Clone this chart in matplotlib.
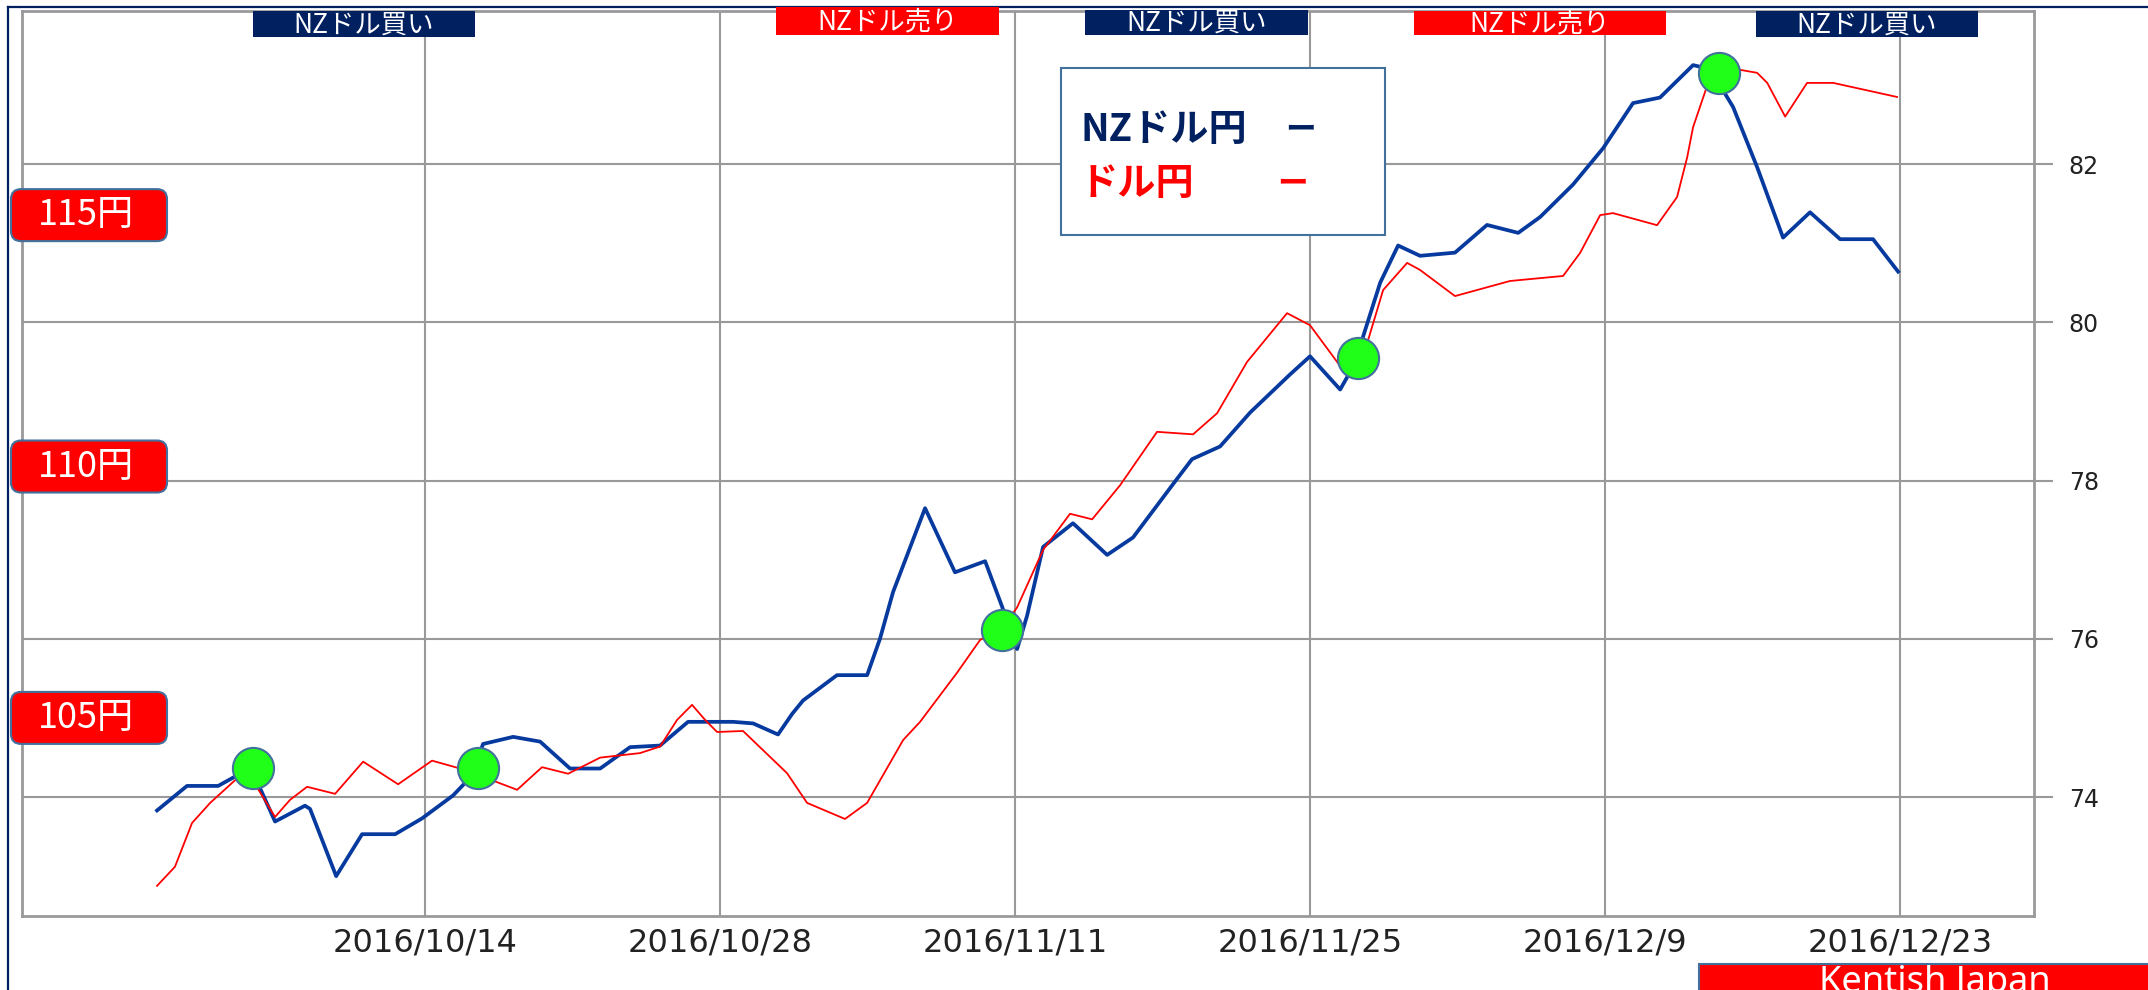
import numpy as np
import pandas as pd
import matplotlib
matplotlib.use('Agg')
import matplotlib.pyplot as plt
from matplotlib.patches import Rectangle, FancyBboxPatch
from matplotlib.lines import Line2D
from matplotlib.transforms import IdentityTransform

plt.rcParams['font.family'] = ['Noto Sans CJK JP', 'DejaVu Sans']

# datos (dias desde 2016/10/14)
base = pd.Timestamp('2016-10-14')

nzd_days = [-12.72, -11.30, -9.82, -8.40, -7.83, -7.12, -5.70, -5.46, -4.22, -2.99,
            -1.42, -0.14, 1.33, 2.23, 2.75, 4.18, 5.46, 6.88, 8.31, 9.73,
            11.15, 12.48, 14.62, 15.57, 16.75, 17.42, 17.94, 19.55, 20.98, 21.59,
            22.21, 23.73, 25.15, 26.58, 27.38, 28.10, 28.57, 29.33, 30.75, 32.37,
            33.60, 35.60, 36.40, 37.73, 39.16, 41.05, 42.00, 43.43, 44.28, 44.52,
            45.33, 46.18, 47.22, 48.88, 50.40, 51.88, 52.92, 54.48, 55.91, 57.33,
            58.61, 60.18, 60.99, 62.08, 63.22, 64.45, 65.73, 67.16, 68.72, 69.91]
nzd_jpy = [73.83, 74.14, 74.14, 74.35, 74.11, 73.69, 73.89, 73.85, 73.00, 73.53,
           73.53, 73.73, 74.02, 74.27, 74.67, 74.76, 74.70, 74.36, 74.36, 74.63,
           74.65, 74.95, 74.95, 74.93, 74.79, 75.05, 75.22, 75.54, 75.54, 76.00,
           76.59, 77.65, 76.84, 76.98, 76.41, 75.87, 76.29, 77.16, 77.46, 77.06,
           77.28, 77.99, 78.27, 78.43, 78.86, 79.34, 79.57, 79.15, 79.55, 79.82,
           80.50, 80.97, 80.84, 80.88, 81.23, 81.13, 81.33, 81.74, 82.20, 82.77,
           82.84, 83.25, 83.20, 82.72, 81.96, 81.07, 81.39, 81.05, 81.05, 80.64]

usd_days = [-12.72, -11.87, -11.06, -10.20, -9.02, -8.31, -7.12, -6.41, -5.60, -4.27,
            -2.94, -1.28, 0.33, 1.52, 2.61, 4.37, 5.55, 6.79, 8.31, 10.20,
            11.15, 11.96, 12.67, 13.29, 13.86, 15.09, 17.18, 18.13, 19.93, 20.98,
            22.69, 23.49, 25.25, 26.34, 27.43, 28.10, 29.33, 30.61, 31.66, 32.99,
            34.74, 36.45, 37.59, 39.01, 40.91, 42.00, 43.57, 44.71, 45.47, 46.61,
            47.22, 48.88, 51.49, 54.01, 54.82, 55.77, 56.38, 58.47, 59.42, 59.90,
            60.18, 61.13, 62.41, 63.22, 63.70, 64.55, 65.59, 66.83, 69.86]
usd_jpy = [101.66, 102.04, 102.91, 103.31, 103.76, 103.85, 103.03, 103.37, 103.63, 103.49,
           104.13, 103.68, 104.15, 104.01, 103.85, 103.57, 104.02, 103.89, 104.21, 104.30,
           104.43, 104.96, 105.26, 104.96, 104.72, 104.74, 103.90, 103.31, 102.99, 103.31,
           104.56, 104.92, 105.90, 106.55, 106.79, 107.20, 108.34, 109.06, 108.95, 109.63,
           110.69, 110.64, 111.06, 112.08, 113.05, 112.81, 111.92, 112.45, 113.51, 114.05,
           113.91, 113.39, 113.69, 113.79, 114.25, 115.00, 115.04, 114.80, 115.36, 116.15,
           116.75, 117.92, 117.89, 117.83, 117.63, 116.96, 117.63, 117.63, 117.35]

signal_days = [-8.16, 2.52, 27.38, 44.28, 61.41]
signal_vals = [74.37, 74.37, 76.11, 79.55, 83.15]
signal_labels = ['NZドル買い', 'NZドル売り', 'NZドル買い', 'NZドル売り', 'NZドル買い']

tick_dates = ['2016/10/14', '2016/10/28', '2016/11/11', '2016/11/25', '2016/12/9', '2016/12/23']
nz_ticks = [74, 76, 78, 80, 82]
yen_levels = [115, 110, 105]

W, H = 2148, 990
navy, red, frame_c, grid_c = '#002060', '#FF0000', '#41719C', '#999999'

def fx(x): return x / W
def fy(y): return 1 - y / H

fig = plt.figure(figsize=(W / 100, H / 100), dpi=100)
ax = fig.add_axes([fx(22), fy(916), fx(2034) - fx(22), fy(11) - fy(916)])
ax2 = ax.twinx()

t_nzd = base + pd.to_timedelta(np.array(nzd_days), unit='D')
t_usd = base + pd.to_timedelta(np.array(usd_days), unit='D')
t_sig = base + pd.to_timedelta(np.array(signal_days), unit='D')

ax.plot(t_nzd, nzd_jpy, '-', color='#073A9E', linewidth=2.7, zorder=3)
ax2.plot(t_usd, usd_jpy, '-', color=red, linewidth=1.3, zorder=3)
ax2.scatter(t_sig, signal_vals, transform=ax.transData, s=880, c='#20FF18',
            edgecolors=frame_c, linewidths=1.5, zorder=6)

ax.set_xlim(base + pd.Timedelta(days=-19.13), base + pd.Timedelta(days=76.36))
ax.set_ylim(72.496, 83.934)
ax2.set_ylim(101.06, 119.06)

xt = pd.to_datetime(tick_dates, format='%Y/%m/%d')
ax.set_xticks(xt)
ax.set_xticklabels(tick_dates, family='DejaVu Sans', fontsize=23, color='#222222')
ax.set_yticks(nz_ticks)
ax.set_yticklabels([str(v) for v in nz_ticks], family='DejaVu Sans', fontsize=17, color='#222222')
ax.tick_params(axis='x', length=0, pad=8)
ax.tick_params(axis='y', direction='out', length=14, width=1.5, color=grid_c, pad=11,
               left=False, labelleft=False, right=True, labelright=True)
ax.grid(True, color=grid_c, linewidth=1.5)
ax.set_axisbelow(True)
for s in ax.spines.values():
    s.set_color(grid_c); s.set_linewidth(2)
ax2.yaxis.set_visible(False)
for s in ax2.spines.values():
    s.set_visible(False)

# marco exterior
fig.add_artist(Line2D([fx(8), fx(8)], [0, fy(7)], color=navy, linewidth=1.6))
fig.add_artist(Line2D([fx(8), 1], [fy(7), fy(7)], color=navy, linewidth=1.6))

# etiquetas de senal arriba
sig_boxes = [(253, 11, 475, 37), (776, 7, 999, 35), (1085, 10, 1308, 35),
             (1414, 11, 1666, 35), (1756, 11, 1978, 37)]
for lab, (x0, y0, x1, y1) in zip(signal_labels, sig_boxes):
    c = red if '売' in lab else navy
    fig.add_artist(Rectangle((fx(x0), fy(y1)), fx(x1) - fx(x0), fy(y0) - fy(y1),
                             facecolor=c, edgecolor='none', zorder=5))
    fig.text(fx((x0 + x1) / 2), fy((y0 + y1) / 2 + 1), lab, color='white', fontsize=19,
             ha='center', va='center', zorder=6)

# leyenda
fig.add_artist(Rectangle((fx(1061), fy(235)), fx(1385) - fx(1061), fy(68) - fy(235),
                         facecolor='white', edgecolor=frame_c, linewidth=1.5, zorder=5))
fig.text(fx(1080), fy(129), 'NZドル円', color=navy, fontsize=27.5, fontweight='bold',
         ha='left', va='center', zorder=6)
fig.text(fx(1300), fy(129), 'ー', color=navy, fontsize=22, fontweight='bold',
         ha='center', va='center', zorder=6)
fig.text(fx(1080), fy(183), 'ドル円', color=red, fontsize=27.5, fontweight='bold',
         ha='left', va='center', zorder=6)
fig.text(fx(1292), fy(183), 'ー', color=red, fontsize=22, fontweight='bold',
         ha='center', va='center', zorder=6)

# etiquetas de yen a la izquierda (escala de ドル円)
for v in yen_levels:
    yd = ax2.transData.transform((0, v))[1]
    fig.add_artist(FancyBboxPatch((11, yd - 26), 156, 52,
                                  boxstyle='round,pad=0,rounding_size=10',
                                  facecolor=red, edgecolor=frame_c, linewidth=1.5,
                                  transform=IdentityTransform(), zorder=5))
    fig.text(fx(86), yd / H, f'{v}円', color='white', fontsize=26,
             ha='center', va='center', zorder=6)

# Kentish Japan
fig.add_artist(Rectangle((fx(1699), -0.05), 1, fy(964) + 0.05,
                         facecolor=red, edgecolor=frame_c, linewidth=1.5, zorder=5))
fig.text(fx(1935), fy(992), 'Kentish Japan', color='white', fontsize=26,
         family=['Noto Sans', 'DejaVu Sans'], ha='center', va='baseline', zorder=6)

fig.savefig('out.png', dpi=100)
